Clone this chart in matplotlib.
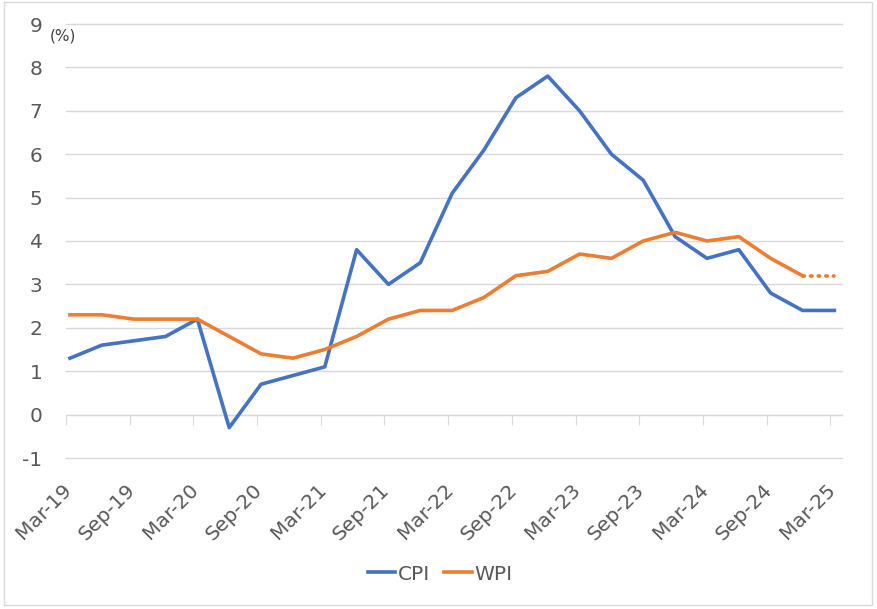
import matplotlib
matplotlib.use("Agg")
import matplotlib.pyplot as plt
import matplotlib.transforms as mtransforms
from matplotlib.patches import Rectangle

quarters = ["Mar-19", "Jun-19", "Sep-19", "Dec-19", "Mar-20", "Jun-20", "Sep-20", "Dec-20",
            "Mar-21", "Jun-21", "Sep-21", "Dec-21", "Mar-22", "Jun-22", "Sep-22", "Dec-22",
            "Mar-23", "Jun-23", "Sep-23", "Dec-23", "Mar-24", "Jun-24", "Sep-24", "Dec-24",
            "Mar-25"]
cpi = [1.3, 1.6, 1.7, 1.8, 2.2, -0.3, 0.7, 0.9, 1.1, 3.8, 3.0, 3.5, 5.1, 6.1, 7.3, 7.8,
       7.0, 6.0, 5.4, 4.1, 3.6, 3.8, 2.8, 2.4, 2.4]
wpi = [2.3, 2.3, 2.2, 2.2, 2.2, 1.8, 1.4, 1.3, 1.5, 1.8, 2.2, 2.4, 2.4, 2.7, 3.2, 3.3,
       3.7, 3.6, 4.0, 4.2, 4.0, 4.1, 3.6, 3.2, 3.2]
n_actual_wpi = 24  # last WPI point is a projection (dotted)
yticks = list(range(-1, 10))

TXT = "#595959"
GRID = "#d9d9d9"
BLUE = "#4472C4"
ORANGE = "#ED7D31"

plt.rcParams['font.family'] = ['DejaVu Sans']

W, H = 877, 609
fig = plt.figure(figsize=(W / 100, H / 100), dpi=100)
ax = fig.add_axes([66 / W, 1 - 458 / H, (842 - 66) / W, (458 - 24) / H])

x = list(range(len(quarters)))
LW = 2.6
ax.plot(x, cpi, color=BLUE, lw=LW, label="CPI", zorder=3)
ax.plot(x[:n_actual_wpi], wpi[:n_actual_wpi], color=ORANGE, lw=LW, label="WPI", zorder=3)
ax.plot(x[n_actual_wpi - 1:], wpi[n_actual_wpi - 1:], color=ORANGE, lw=LW,
        linestyle=(0, (0.4, 1.7)), dash_capstyle='round', zorder=3)

ax.set_ylim(-1, 9)
ax.set_xlim(-0.125, len(quarters) - 1 + 0.24)
ax.set_yticks(yticks)
ax.set_yticklabels([str(v) for v in yticks])
ax.grid(axis='y', color=GRID, lw=1)
for gl in ax.get_ygridlines():
    gl.set_clip_on(False)
ax.set_axisbelow(True)
ax.tick_params(axis='y', length=0, pad=17, labelsize=14.5, labelcolor=TXT)

for s in ['top', 'right', 'left']:
    ax.spines[s].set_visible(False)
ax.spines['bottom'].set_position(('data', 0))
ax.spines['bottom'].set_color(GRID)
ax.set_xticks([i - 0.125 for i in x[::2]])
ax.tick_params(axis='x', direction='out', length=7, color=GRID, labelbottom=False)

sec = ax.secondary_xaxis('bottom')
sec.set_xticks(x[::2])
sec.set_xticklabels(quarters[::2], rotation=45, ha='right', rotation_mode='default')
sec.tick_params(length=0, pad=16, labelsize=14.5, labelcolor=TXT)
sec.spines['bottom'].set_visible(False)
off = mtransforms.ScaledTranslation(5 / 100, 0, fig.dpi_scale_trans)
for lab in sec.get_xticklabels():
    lab.set_transform(lab.get_transform() + off)

fig.text(50 / W, 1 - 36 / H, "(%)", fontsize=11, color="#404040", va='center', ha='left')

leg = fig.legend(loc='center', bbox_to_anchor=(0.502, 1 - 574 / H), ncol=2, frameon=False,
                 handlelength=1.35, handletextpad=0.15, columnspacing=0.7, fontsize=14.5)
for t in leg.get_texts():
    t.set_color(TXT)

fig.patches.append(Rectangle((4 / W, 1 - 605 / H), (872 - 4) / W, (605 - 2) / H,
                             transform=fig.transFigure, fill=False, edgecolor=GRID, lw=1))

fig.savefig("out.png", dpi=100)
